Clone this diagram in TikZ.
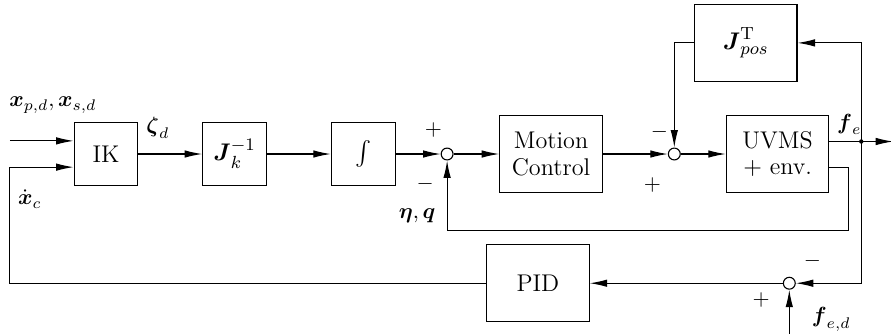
\documentclass[tikz,border=0pt]{standalone}
\usepackage{amsmath,amssymb}
\usetikzlibrary{arrows.meta,positioning,calc}
\tikzset{
  block/.style={draw, line width=0.5pt, minimum width=10.2mm, minimum height=10.2mm, align=center, font=\fontsize{11}{12}\selectfont},
  wideblock/.style={block, minimum width=16.4mm, minimum height=12.3mm},
  sumnode/.style={draw, circle, line width=0.5pt, fill=white, inner sep=0pt, minimum size=1.9mm},
  junction/.style={fill, circle, inner sep=0pt, minimum size=0.7mm},
  wire/.style={line width=0.5pt},
  arrow/.style={-{Latex[length=2.8mm,width=1.2mm]}, line width=0.5pt},
  sign/.style={inner sep=0pt},
  lbl/.style={inner sep=0pt},
}

\begin{document}
\begin{tikzpicture}
\useasboundingbox (0,0) rectangle (142.56mm,-53.6mm);
% forward path
\node[block] (ik) at (16.96mm,-24.64mm) {IK};
\node[block, right=10.2mm of ik] (jk) {$\boldsymbol{J}_k^{-1}$};
\node[block, right=10.2mm of jk] (int) {$\int$};
\node[sumnode, right=7.2mm of int] (s1) {};
\node[wideblock, right=7.3mm of s1] (mc) {Motion\\Control};
\node[sumnode, right=10.4mm of mc] (s2) {};
\node[wideblock, right=7.2mm of s2] (uvms) {UVMS\\$+$ env.};
\node[wideblock, above=5.3mm of uvms, xshift=-5.1mm] (jpos) {$\boldsymbol{J}_{pos}^{\mathrm{T}}$};
% force loop
\node[wideblock, below=8.2mm of mc, xshift=-2.1mm] (pid) {PID};
\node[sumnode, right=30.9mm of pid] (s3) {};

\coordinate (xin) at ($(ik.west)+(-10.2mm,2.1mm)$);
\coordinate (xc) at ($(ik.west)+(-10.2mm,-2.1mm)$);
\coordinate (fe) at ($(uvms.east)+(5.1mm,2mm)$);
\coordinate (out) at ($(fe)+(5.1mm,0)$);
\coordinate (ret) at ($(uvms.east)+(3mm,-2.2mm)$);
\coordinate (retlow) at ($(s1)+(0,-12.3mm)$);
\coordinate (fed) at ($(s3)+(0,-8.1mm)$);

\draw[arrow] (xin) -- (xin -| ik.west);
\draw[arrow] (ik) -- (jk);
\draw[arrow] (jk) -- (int);
\draw[arrow] (int) -- (s1);
\draw[arrow] (s1) -- (mc);
\draw[arrow] (mc) -- (s2);
\draw[arrow] (s2) -- (uvms);
\draw[wire] (uvms.east |- fe) -- (fe);
\draw[arrow] (fe) -- (out);
\draw[arrow] (fe) |- (jpos.east);
\draw[arrow] (jpos.west) -| (s2.north);
\draw[arrow] (uvms.east |- ret) -- (ret) |- (retlow) -- (s1.south);
\draw[arrow] (fe) |- (s3.east);
\draw[arrow] (fed) -- (s3.south);
\draw[arrow] (s3) -- (pid);
\draw[arrow] (pid.west) -| (xc) -- (xc -| ik.west);
\node[junction] (fedot) at (fe) {};

% labels
\node[lbl] (lxd) at ($(ik)+(-8.5mm,7.8mm)$) {$\boldsymbol{x}_{p,d},\boldsymbol{x}_{s,d}$};
\node[lbl] (lzeta) at ($(ik)+(8.3mm,4.2mm)$) {$\boldsymbol{\zeta}_d$};
\node[lbl] (lxc) at ($(ik)+(-12.2mm,-7.2mm)$) {$\dot{\boldsymbol{x}}_c$};
\node[sign] (p1) at ($(s1)+(-2.2mm,3.8mm)$) {$+$};
\node[sign] (m1) at ($(s1)+(-3.5mm,-4.8mm)$) {$-$};
\node[lbl] (leta) at ($(s1)+(-4.8mm,-9.8mm)$) {$\boldsymbol{\eta},\boldsymbol{q}$};
\node[sign] (m2) at ($(s2)+(-2.4mm,3.5mm)$) {$-$};
\node[sign] (p2) at ($(s2)+(-3.5mm,-5mm)$) {$+$};
\node[lbl] (lfe) at ($(fe)+(-1.9mm,2.7mm)$) {$\boldsymbol{f}_e$};
\node[sign] (m3) at ($(s3)+(3.7mm,3.5mm)$) {$-$};
\node[sign] (p3) at ($(s3)+(-4.5mm,-2.7mm)$) {$+$};
\node[lbl] (lfed) at ($(s3)+(6.7mm,-5.8mm)$) {$\boldsymbol{f}_{e,d}$};
\end{tikzpicture}
\end{document}
